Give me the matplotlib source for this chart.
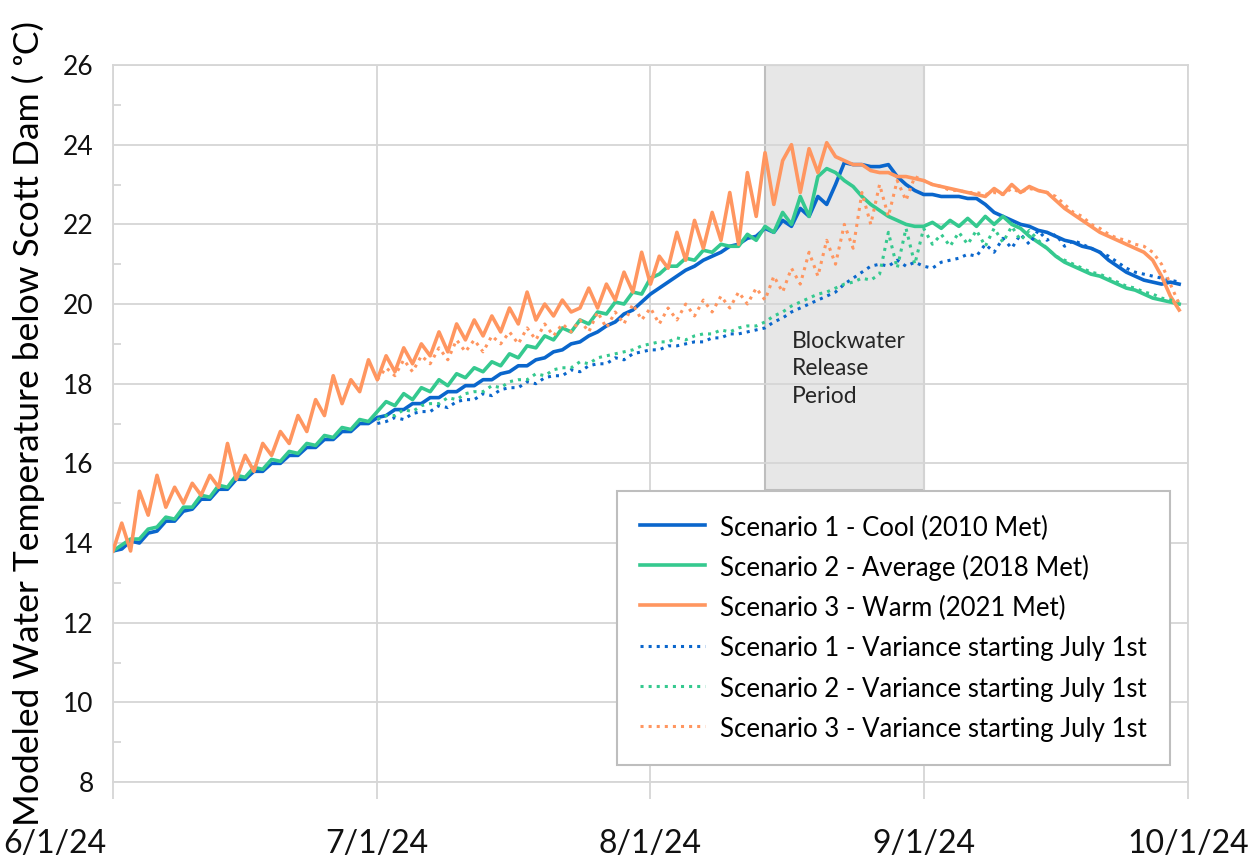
import matplotlib
matplotlib.use("Agg")
import matplotlib.pyplot as plt
import matplotlib.dates as mdates
import matplotlib.transforms as mtransforms
from matplotlib.ticker import FuncFormatter, MultipleLocator
import pandas as pd

# daily values, 6/1/24 .. 9/30/24
days = pd.date_range("2024-06-01", periods=122, freq="D")
# variance runs start July 1st
days_var = pd.date_range("2024-07-01", periods=92, freq="D")

s1_cool = [13.8, 13.85, 14.05, 14.0, 14.25, 14.3, 14.55, 14.55, 14.8, 14.85, 15.1, 15.1, 15.35, 15.35, 15.6,
           15.6, 15.8, 15.8, 16.0, 16.0, 16.2, 16.2, 16.4, 16.4, 16.6, 16.6, 16.8, 16.8, 17.0, 17.0,
           17.15, 17.2, 17.35, 17.35, 17.5, 17.5, 17.65, 17.65, 17.8, 17.8, 17.95, 17.95, 18.1, 18.1, 18.25,
           18.3, 18.45, 18.45, 18.6, 18.65, 18.8, 18.85, 19.0, 19.05, 19.2, 19.3, 19.45, 19.55, 19.75, 19.85, 20.05,
           20.25, 20.4, 20.55, 20.7, 20.85, 20.95, 21.1, 21.2, 21.3, 21.45, 21.5, 21.65, 21.7, 21.9, 21.8,
           22.1, 21.95, 22.4, 22.2, 22.7, 22.5, 23.0, 23.55, 23.5, 23.5, 23.45, 23.45, 23.5, 23.2, 23.0, 22.85,
           22.75, 22.75, 22.7, 22.7, 22.7, 22.65, 22.65, 22.5, 22.3, 22.2, 22.1, 22.0, 21.95, 21.85, 21.8,
           21.7, 21.6, 21.55, 21.45, 21.4, 21.3, 21.1, 20.95, 20.8, 20.7, 20.6, 20.55, 20.5, 20.55, 20.5]

s2_avg = [13.8, 13.95, 14.1, 14.1, 14.35, 14.4, 14.65, 14.6, 14.9, 14.9, 15.2, 15.15, 15.45, 15.4, 15.7,
          15.65, 15.9, 15.85, 16.1, 16.05, 16.3, 16.25, 16.5, 16.45, 16.7, 16.65, 16.9, 16.85, 17.1, 17.05,
          17.3, 17.55, 17.45, 17.75, 17.6, 17.9, 17.8, 18.1, 17.95, 18.25, 18.15, 18.4, 18.3, 18.55, 18.45,
          18.75, 18.65, 18.95, 18.9, 19.2, 19.1, 19.4, 19.3, 19.6, 19.5, 19.8, 19.75, 20.05, 20.0, 20.3, 20.25,
          20.65, 20.75, 20.95, 20.95, 21.15, 21.1, 21.35, 21.3, 21.5, 21.45, 21.45, 21.75, 21.6, 21.95, 21.8,
          22.3, 22.0, 22.7, 22.2, 23.2, 23.4, 23.3, 23.1, 22.95, 22.7, 22.5, 22.35, 22.2, 22.1, 22.0, 21.95,
          21.95, 22.05, 21.9, 22.1, 21.95, 22.15, 21.95, 22.2, 22.0, 22.2, 22.0, 21.9, 21.7, 21.55, 21.4,
          21.2, 21.05, 20.95, 20.85, 20.75, 20.7, 20.6, 20.5, 20.4, 20.35, 20.25, 20.15, 20.1, 20.05, 20.0]

s3_warm = [13.8, 14.5, 13.8, 15.3, 14.7, 15.7, 14.9, 15.4, 15.0, 15.5, 15.2, 15.7, 15.4, 16.5, 15.6,
           16.2, 15.8, 16.5, 16.2, 16.8, 16.5, 17.2, 16.8, 17.6, 17.2, 18.2, 17.5, 18.1, 17.8, 18.6,
           18.1, 18.7, 18.3, 18.9, 18.5, 19.0, 18.7, 19.3, 18.8, 19.5, 19.1, 19.6, 19.2, 19.7, 19.3,
           19.9, 19.5, 20.3, 19.6, 20.0, 19.7, 20.1, 19.8, 19.9, 20.4, 19.9, 20.5, 20.1, 20.8, 20.3, 21.3,
           20.5, 21.2, 20.9, 21.8, 21.1, 22.1, 21.4, 22.3, 21.6, 22.8, 21.5, 23.3, 22.2, 23.8, 22.5,
           23.6, 24.0, 22.8, 23.9, 23.3, 24.05, 23.7, 23.6, 23.5, 23.5, 23.35, 23.3, 23.3, 23.2, 23.2, 23.15,
           23.1, 23.0, 22.95, 22.9, 22.85, 22.8, 22.75, 22.7, 22.9, 22.75, 23.0, 22.8, 22.95, 22.85, 22.8,
           22.6, 22.4, 22.25, 22.1, 21.95, 21.8, 21.7, 21.6, 21.5, 21.4, 21.3, 21.1, 20.7, 20.2, 19.85]

v1_cool = [17.0, 17.05, 17.15, 17.1, 17.25, 17.3, 17.3, 17.45, 17.4, 17.55, 17.6, 17.6, 17.75, 17.7, 17.85,
           17.9, 17.9, 18.05, 18.0, 18.15, 18.2, 18.2, 18.35, 18.3, 18.45, 18.5, 18.5, 18.65, 18.6, 18.75, 18.8,
           18.85, 18.85, 18.95, 18.95, 19.0, 19.05, 19.05, 19.15, 19.15, 19.25, 19.25, 19.3, 19.35, 19.4, 19.55,
           19.65, 19.8, 19.9, 20.0, 20.1, 20.2, 20.3, 20.5, 20.65, 20.8, 20.95, 21.0, 20.95, 21.1, 20.95, 21.05,
           20.95, 20.9, 21.05, 21.1, 21.15, 21.25, 21.2, 21.5, 21.3, 21.65, 21.4, 21.75, 21.5, 21.85, 21.6,
           21.75, 21.45, 21.6, 21.5, 21.4, 21.3, 21.2, 21.05, 20.9, 20.8, 20.75, 20.7, 20.65, 20.6, 20.55]

v2_avg = [17.1, 17.2, 17.2, 17.35, 17.3, 17.45, 17.5, 17.5, 17.65, 17.6, 17.75, 17.8, 17.8, 17.95, 17.9,
          18.05, 18.1, 18.1, 18.25, 18.2, 18.35, 18.4, 18.4, 18.55, 18.5, 18.65, 18.7, 18.75, 18.8, 18.85, 18.95,
          19.0, 19.05, 19.05, 19.15, 19.1, 19.2, 19.25, 19.25, 19.35, 19.3, 19.4, 19.45, 19.45, 19.55, 19.7,
          19.8, 19.95, 20.05, 20.15, 20.25, 20.3, 20.4, 20.5, 20.55, 20.65, 20.6, 20.75, 21.8, 20.9, 21.9, 21.0,
          21.9, 21.5, 21.75, 21.45, 21.8, 21.5, 21.85, 21.45, 21.9, 21.55, 21.95, 21.6, 21.85, 21.6, 21.4,
          21.2, 21.1, 21.0, 20.9, 20.8, 20.75, 20.65, 20.55, 20.45, 20.4, 20.3, 20.25, 20.15, 20.1, 20.05]

v3_warm = [18.1, 18.4, 18.2, 18.6, 18.3, 18.7, 18.5, 18.9, 18.6, 19.1, 18.8, 19.1, 18.8, 19.2, 19.0,
           19.3, 19.0, 19.4, 19.1, 19.5, 19.2, 19.5, 19.3, 19.6, 19.3, 19.8, 19.4, 19.8, 19.5, 20.0, 19.6,
           19.9, 19.5, 19.9, 19.6, 20.0, 19.7, 20.1, 19.8, 20.2, 19.9, 20.3, 20.0, 20.4, 20.1, 20.7,
           20.3, 20.9, 20.5, 21.3, 20.7, 21.6, 21.0, 22.0, 21.4, 22.8, 22.0, 23.0, 22.2, 23.1, 22.6, 23.2,
           23.1, 23.0, 22.95, 22.85, 22.85, 22.8, 22.8, 22.75, 22.8, 22.75, 22.9, 22.8, 22.9, 22.85, 22.8,
           22.7, 22.5, 22.3, 22.2, 22.0, 21.9, 21.75, 21.65, 21.6, 21.5, 21.45, 21.3, 21.0, 20.5, 20.0]

labels = ["Scenario 1 - Cool (2010 Met)",
          "Scenario 2 - Average (2018 Met)",
          "Scenario 3 - Warm (2021 Met)",
          "Scenario 1 - Variance starting July 1st",
          "Scenario 2 - Variance starting July 1st",
          "Scenario 3 - Variance starting July 1st"]

blue = "#0A66CC"
green = "#35C98F"
orange = "#FF9660"
grid_c = "#D6D6D6"

plt.rcParams["font.family"] = ["Lato", "DejaVu Sans"]

fig = plt.figure(figsize=(12.55, 8.59), dpi=100)
ax = fig.add_axes([0.090, 0.0896, 0.8566, 0.8347])

# blockwater release period
ax.fill_between([pd.Timestamp("2024-08-14"), pd.Timestamp("2024-09-01")], 15.33, 26,
                facecolor="#E7E7E7", edgecolor="#BEBEBE", linewidth=1.5, zorder=0.3)
ax.text(pd.Timestamp("2024-08-17"), 18.37, "Blockwater\nRelease\nPeriod", fontsize=16.5,
        color="#262626", va="center", ha="left", linespacing=1.4, zorder=1)

ax.plot(days, s1_cool, color=blue, lw=2.6, label=labels[0], zorder=3)
ax.plot(days, s2_avg, color=green, lw=2.6, label=labels[1], zorder=3)
ax.plot(days, s3_warm, color=orange, lw=2.6, label=labels[2], zorder=3)
ax.plot(days_var, v1_cool, color=blue, lw=2.2, ls=":", label=labels[3], zorder=4)
ax.plot(days_var, v2_avg, color=green, lw=2.2, ls=":", label=labels[4], zorder=4)
ax.plot(days_var, v3_warm, color=orange, lw=2.2, ls=":", label=labels[5], zorder=4)

ax.set_xlim(pd.Timestamp("2024-06-01"), pd.Timestamp("2024-10-01"))
ax.set_ylim(8, 26)
ax.xaxis.set_major_locator(mdates.MonthLocator())
ax.xaxis.set_major_formatter(FuncFormatter(
    lambda v, p: "{d.month}/{d.day}/{y}".format(d=mdates.num2date(v), y=mdates.num2date(v).year % 100)))
ax.yaxis.set_major_locator(MultipleLocator(2))
ax.yaxis.set_minor_locator(MultipleLocator(1))

ax.grid(True, which="major", color=grid_c, lw=1.3)
ax.set_axisbelow(True)
for sp in ax.spines.values():
    sp.set_color(grid_c)
    sp.set_linewidth(1.3)

ax.tick_params(axis="x", which="major", direction="out", length=12, width=1.3, color=grid_c,
               labelsize=23, pad=22, labelcolor="#111111")
ax.tick_params(axis="y", which="major", length=0, labelsize=19, pad=14, labelcolor="#111111")
ax.tick_params(axis="y", which="minor", direction="in", length=6, width=1.3, color=grid_c)

ax.set_ylabel("Modeled Water Temperature below Scott Dam ( \u1d52C)", fontsize=25.5)
ax.yaxis.set_label_coords(-0.063, 0.5)

# first date label sits further left in the original
fig.canvas.draw()
first = ax.get_xticklabels()[0]
first.set_transform(first.get_transform() + mtransforms.ScaledTranslation(-58 / 100, 0, fig.dpi_scale_trans))

leg = ax.legend(loc="upper left", bbox_to_anchor=(0.469, 0.406), fontsize=18.5, frameon=True,
                fancybox=False, framealpha=1, edgecolor="#BEBEBE", handlelength=2.5,
                handleheight=1.2, handletextpad=0.6, labelspacing=0.52, borderpad=0.9,
                borderaxespad=0)
leg.get_frame().set_linewidth(1.5)
leg.set_zorder(5)

fig.savefig("out.png", dpi=100)
